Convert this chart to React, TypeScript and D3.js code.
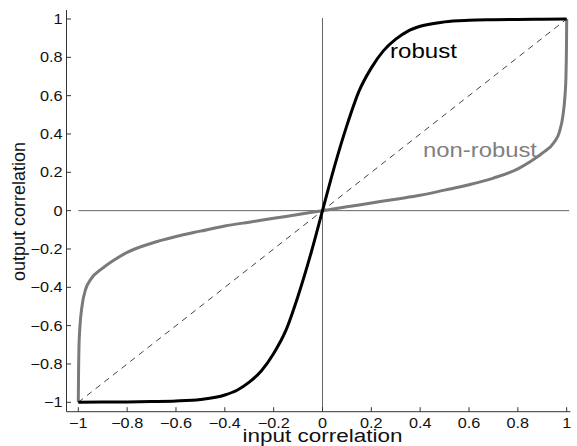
import React from "react";
import * as d3 from "d3";

// values
const ticks = [-1, -0.8, -0.6, -0.4, -0.2, 0, 0.2, 0.4, 0.6, 0.8, 1];

const robustX = [-1, -0.9, -0.8, -0.7, -0.6, -0.5, -0.4, -0.35, -0.3, -0.25, -0.2, -0.15, -0.1, -0.05, 0,
  0.05, 0.1, 0.15, 0.2, 0.25, 0.3, 0.35, 0.4, 0.5, 0.6, 0.7, 0.8, 0.9, 1];
const robustY = [-1, -0.999, -0.998, -0.996, -0.993, -0.985, -0.962, -0.937, -0.895, -0.835, -0.745, -0.625, -0.445, -0.235, 0,
  0.235, 0.445, 0.625, 0.745, 0.835, 0.895, 0.937, 0.962, 0.985, 0.993, 0.996, 0.998, 0.999, 1];

const nonRobustX = [-1, -0.999, -0.997, -0.993, -0.985, -0.97, -0.95, -0.9, -0.85, -0.8, -0.7, -0.6, -0.5, -0.4, -0.3, -0.2, -0.1, 0,
  0.1, 0.2, 0.3, 0.4, 0.5, 0.6, 0.7, 0.8, 0.85, 0.9, 0.95, 0.97, 0.985, 0.993, 0.997, 0.999, 1];
const nonRobustY = [-1, -0.85, -0.7, -0.6, -0.5, -0.41, -0.36, -0.3, -0.255, -0.218, -0.17, -0.135, -0.107, -0.08, -0.06, -0.04, -0.02, 0,
  0.02, 0.04, 0.06, 0.08, 0.107, 0.135, 0.17, 0.218, 0.255, 0.3, 0.36, 0.41, 0.5, 0.6, 0.7, 0.85, 1];

const width = 577;
const height = 446;

const fmt = (d: number) => (d === 0 ? "0" : String(d).replace("-", "\u2212"));

export default function App() {
  const x = d3.scaleLinear().domain([-1, 1]).range([78.3, 566.7]);
  const y = d3.scaleLinear().domain([-1, 1]).range([402.3, 19]);

  const line = d3.line<[number, number]>()
    .x(d => x(d[0]))
    .y(d => y(d[1]))
    .curve(d3.curveMonotoneX);

  const robust = line(robustX.map((v, i) => [v, robustY[i]]) as [number, number][]);
  const nonRobust = line(nonRobustX.map((v, i) => [v, nonRobustY[i]]) as [number, number][]);

  const axisColor = "#333";
  const font = "Liberation Sans, Arial, Helvetica, sans-serif";
  const xAxisY = 411.7;
  const yAxisX = 66.5;

  return (
    <svg width={width} height={height} style={{ position: "absolute", left: 0, top: 0, background: "#fff" }}
      fontFamily={font}>
      {/* zero lines */}
      <line x1={x(0)} x2={x(0)} y1={y(1.005)} y2={xAxisY} stroke="#666" strokeWidth={1} />
      <line x1={x(-1)} x2={x(1.01)} y1={y(0)} y2={y(0)} stroke="#666" strokeWidth={1} />

      {/* identity */}
      <line x1={x(-1)} y1={y(-1)} x2={x(1)} y2={y(1)} stroke="#444" strokeWidth={1} strokeDasharray="6,5" />

      <path d={nonRobust ?? ""} fill="none" stroke="#7a7a7a" strokeWidth={3} />
      <path d={robust ?? ""} fill="none" stroke="#000" strokeWidth={3} />

      {/* axes */}
      <line x1={yAxisX} x2={yAxisX} y1={10} y2={xAxisY} stroke={axisColor} strokeWidth={1} />
      <line x1={yAxisX} x2={570.5} y1={xAxisY} y2={xAxisY} stroke={axisColor} strokeWidth={1} />
      {ticks.map(t => (
        <g key={"y" + t}>
          <line x1={yAxisX} x2={yAxisX + 4.5} y1={y(t)} y2={y(t)} stroke={axisColor} />
          <text transform={`translate(62.5,${y(t) + 5}) scale(1.12,1)`} textAnchor="end" fontSize={14.5} fill="#111">
            {fmt(t)}
          </text>
        </g>
      ))}
      {ticks.map(t => (
        <g key={"x" + t}>
          <line x1={x(t)} x2={x(t)} y1={xAxisY} y2={xAxisY - 4.5} stroke={axisColor} />
          <text transform={`translate(${x(t)},427.5) scale(1.12,1)`} textAnchor="middle" fontSize={14.5} fill="#111">
            {fmt(t)}
          </text>
        </g>
      ))}

      {/* axis titles */}
      <text x={x(0)} y={441.5} textAnchor="middle" fontSize={18} fill="#111"
        textLength={160} lengthAdjust="spacingAndGlyphs">input correlation</text>
      <text transform={`translate(24.5,211.5) rotate(-90)`} textAnchor="middle" fontSize={18} fill="#111">
        output correlation
      </text>

      {/* curve labels */}
      <text x={390} y={58} fontSize={20} fill="#000" textLength={67} lengthAdjust="spacingAndGlyphs">robust</text>
      <text x={423} y={157} fontSize={20} fill="#808080" textLength={114} lengthAdjust="spacingAndGlyphs">non-robust</text>
    </svg>
  );
}
